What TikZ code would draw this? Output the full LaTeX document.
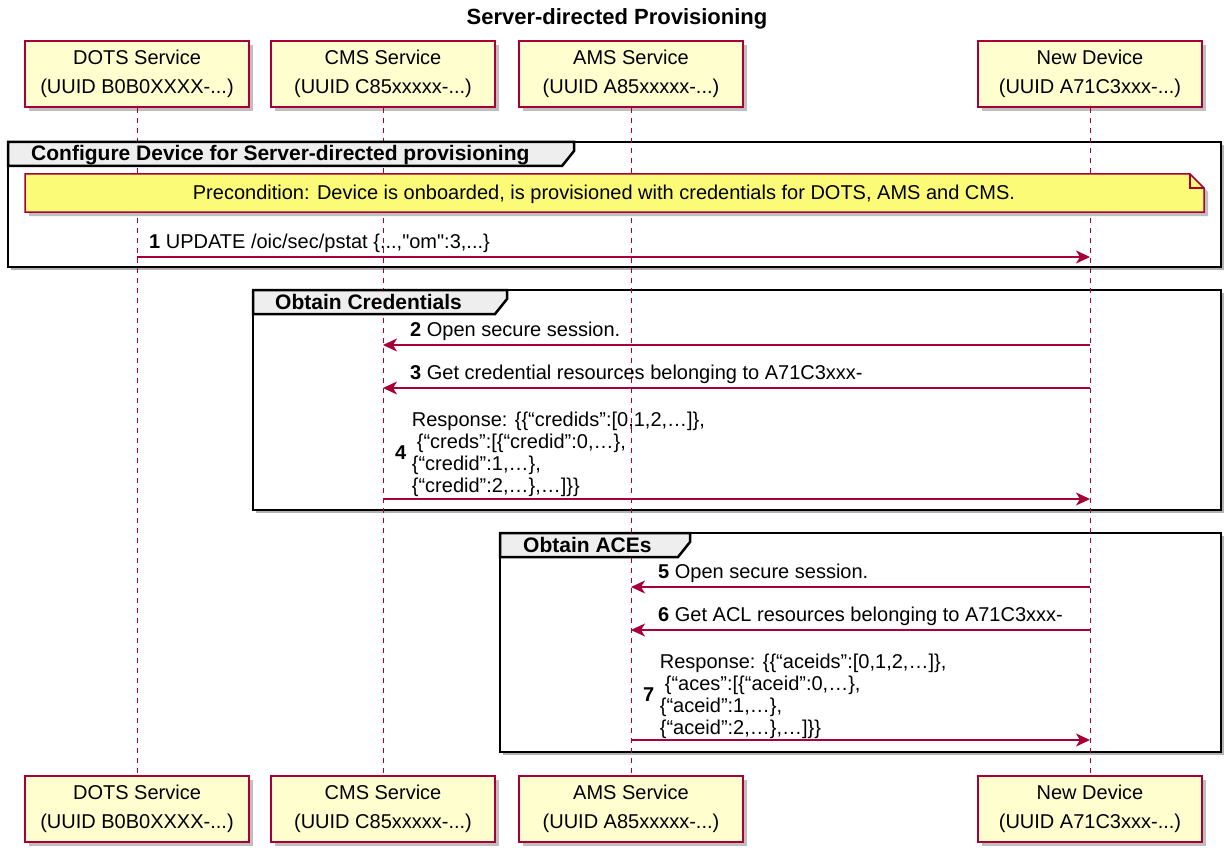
\documentclass[tikz,border=0pt]{standalone}
\usepackage{fontspec}
\setmainfont{Liberation Sans}
\newfontfamily\umlfont{Liberation Sans}
\usetikzlibrary{positioning,arrows.meta,shadows}
\definecolor{umlred}{HTML}{A80036}
\definecolor{umlbox}{HTML}{FEFECE}
\definecolor{umlnote}{HTML}{FBFB77}
\definecolor{umlgroup}{HTML}{EEEEEE}

\begin{document}
\begin{tikzpicture}[
        x=1pt, y=-1pt,
        actor/.style={draw=umlred, line width=1.5pt, fill=umlbox, minimum width=224pt, minimum height=66pt, inner sep=0pt, align=center, font=\umlfont\fontsize{20}{29}\selectfont, drop shadow={shadow xshift=4pt, shadow yshift=-4pt, fill=black, opacity=0.25}},
        lifeline/.style={umlred, line width=1pt, dash pattern=on 5pt off 5pt},
        groupframe/.style={draw=black, line width=2.5pt, fill=white, drop shadow={shadow xshift=3pt, shadow yshift=-3pt, fill=black, opacity=0.3}},
        grouptab/.style={draw=black, line width=2.5pt, fill=umlgroup, line join=miter},
        grouplabel/.style={anchor=west, inner sep=0pt, font=\umlfont\fontsize{21}{24}\selectfont\bfseries},
        notebox/.style={draw=umlred, line width=1.5pt, fill=umlnote, drop shadow={shadow xshift=4pt, shadow yshift=-4pt, fill=black, opacity=0.25}},
        notetext/.style={inner sep=0pt, font=\umlfont\fontsize{20}{24}\selectfont},
        msg/.style={umlred, line width=1.5pt, -{Stealth[length=14pt, width=13pt, inset=4pt]}},
        msglabel/.style={inner sep=0pt, font=\umlfont\fontsize{20}{22}\selectfont},
        heading/.style={inner sep=0pt, font=\umlfont\fontsize{22}{26}\selectfont\bfseries}
      ]
        \useasboundingbox (0,0) rectangle (1224,848);

        \node (title) at (617,19) [heading] {Server-directed Provisioning};

        \node (dotsT) at (137,74)  [actor] {DOTS Service\\(UUID B0B0XXXX-...)};
        \node (cmsT)  at (383,74)  [actor] {CMS Service\\(UUID C85xxxxx-...)};
        \node (amsT)  at (631,74)  [actor] {AMS Service\\(UUID A85xxxxx-...)};
        \node (devT)  at (1090,74) [actor] {New Device\\(UUID A71C3xxx-...)};
        \node (dotsB) at (137,809)  [actor] {DOTS Service\\(UUID B0B0XXXX-...)};
        \node (cmsB)  at (383,809)  [actor] {CMS Service\\(UUID C85xxxxx-...)};
        \node (amsB)  at (631,809)  [actor] {AMS Service\\(UUID A85xxxxx-...)};
        \node (devB)  at (1090,809) [actor] {New Device\\(UUID A71C3xxx-...)};

        \draw [groupframe] (8,142) rectangle (1221,267);
        \draw [groupframe] (253,290) rectangle (1221,510);
        \draw [groupframe] (500,533) rectangle (1221,752);

        \draw [lifeline] (dotsT) -- (dotsB);
        \draw [lifeline] (cmsT) -- (cmsB);
        \draw [lifeline] (amsT) -- (amsB);
        \draw [lifeline] (devT) -- (devB);

        \draw [grouptab] (8,142) -- (574,142) -- (574,151) -- (562,166) -- (8,166) -- cycle;
        \node (g1) at (31,155) [grouplabel] {Configure Device for Server-directed provisioning};
        \draw [grouptab] (253,290) -- (507,290) -- (507,299) -- (495,314) -- (253,314) -- cycle;
        \node (g2) at (275,302) [grouplabel] {Obtain Credentials};
        \draw [grouptab] (500,533) -- (690,533) -- (690,542) -- (678,557) -- (500,557) -- cycle;
        \node (g3) at (523,545) [grouplabel] {Obtain ACEs};

        \draw [notebox] (25,174) -- (1190,174) -- (1204,188) -- (1204,212) -- (25,212) -- cycle;
        \draw [umlred, line width=1.5pt] (1190,174) -- (1190,188) -- (1204,188);
        \node (note) at (604,194) [notetext] {Precondition: Device is onboarded, is provisioned with credentials for DOTS, AMS and CMS.};

        \coordinate (m1s) at (dotsT |- 0,257);
        \coordinate (m1e) at (devT |- 0,257);
        \draw [msg] (m1s) -- (m1e);
        \node (l1) [msglabel, above right=4pt and 12pt of m1s] {\textbf{1} UPDATE /oic/sec/pstat \{...,"om":3,...\}};

        \coordinate (m2s) at (devT |- 0,345);
        \coordinate (m2e) at (cmsT |- 0,345);
        \draw [msg] (m2s) -- (m2e);
        \node (l2) [msglabel, above right=4pt and 27pt of m2e] {\textbf{2} Open secure session.};

        \coordinate (m3s) at (devT |- 0,388);
        \coordinate (m3e) at (cmsT |- 0,388);
        \draw [msg] (m3s) -- (m3e);
        \node (l3) [msglabel, above right=4pt and 27pt of m3e] {\textbf{3} Get credential resources belonging to A71C3xxx-};

        \coordinate (m4s) at (cmsT |- 0,499);
        \coordinate (m4e) at (devT |- 0,499);
        \draw [msg] (m4s) -- (m4e);
        \node (l4) [msglabel, above right=0pt and 12pt of m4s] {\textbf{4} \begin{tabular}[c]{@{}l@{}}Response: \{\{“credids”:[0,1,2,…]\},\\\hspace{5pt}\{“creds”:[\{“credid”:0,…\},\\\{“credid”:1,…\},\\\{“credid”:2,…\},…]\}\}\end{tabular}};

        \coordinate (m5s) at (devT |- 0,587);
        \coordinate (m5e) at (amsT |- 0,587);
        \draw [msg] (m5s) -- (m5e);
        \node (l5) [msglabel, above right=4pt and 27pt of m5e] {\textbf{5} Open secure session.};

        \coordinate (m6s) at (devT |- 0,630);
        \coordinate (m6e) at (amsT |- 0,630);
        \draw [msg] (m6s) -- (m6e);
        \node (l6) [msglabel, above right=4pt and 27pt of m6e] {\textbf{6} Get ACL resources belonging to A71C3xxx-};

        \coordinate (m7s) at (amsT |- 0,740);
        \coordinate (m7e) at (devT |- 0,740);
        \draw [msg] (m7s) -- (m7e);
        \node (l7) [msglabel, above right=-1pt and 12pt of m7s] {\textbf{7} \begin{tabular}[c]{@{}l@{}}Response: \{\{“aceids”:[0,1,2,…]\},\\\hspace{5pt}\{“aces”:[\{“aceid”:0,…\},\\\{“aceid”:1,…\},\\\{“aceid”:2,…\},…]\}\}\end{tabular}};
      \end{tikzpicture}
\end{document}
